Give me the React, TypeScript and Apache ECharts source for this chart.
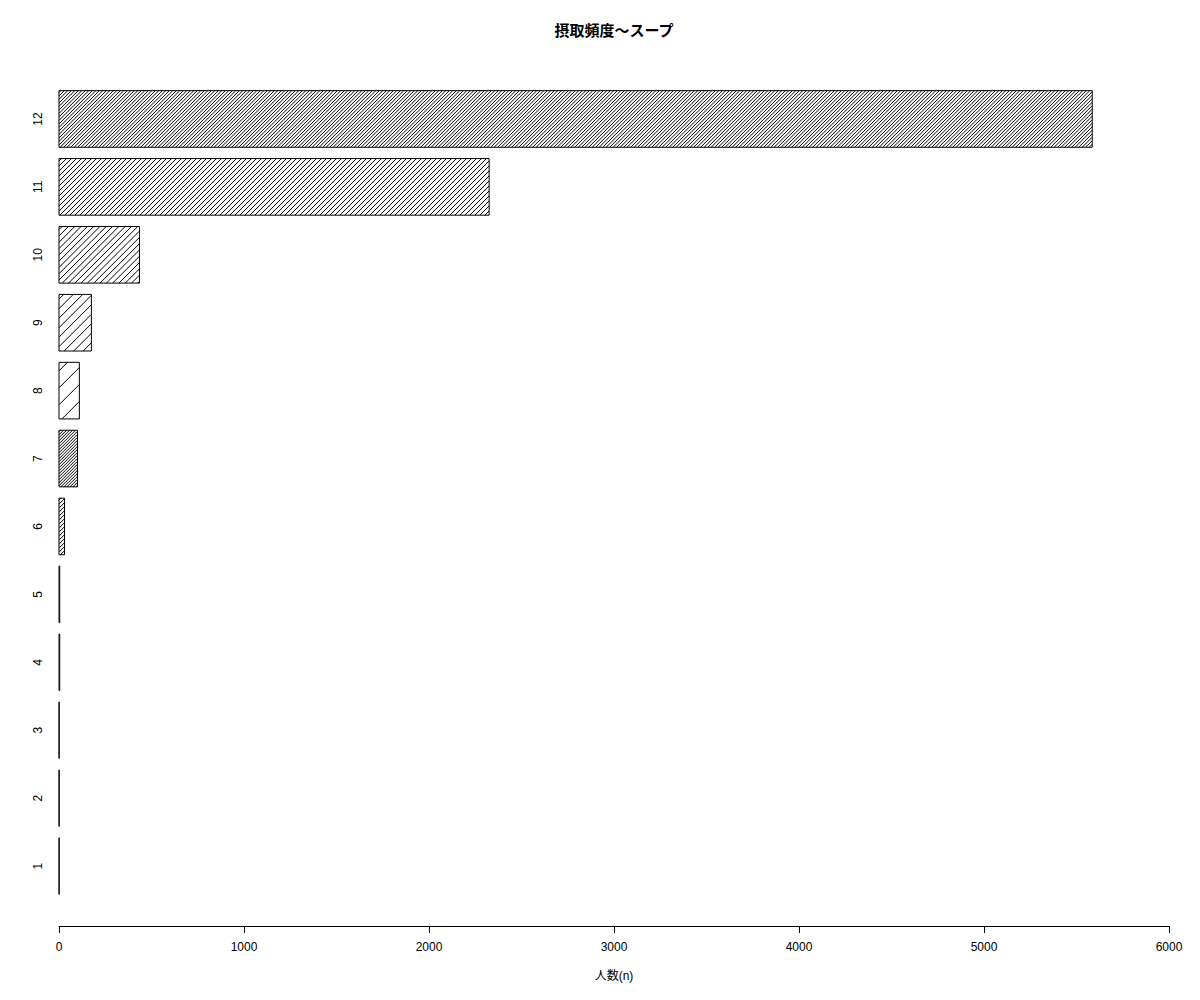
import React, { useEffect, useRef } from "react";
import * as echarts from "echarts";

// categories (bottom to top)
const categories = ["1", "2", "3", "4", "5", "6", "7", "8", "9", "10", "11", "12"];
// number of people per category
const counts = [1, 1, 1, 4, 4, 30, 100, 110, 175, 435, 2325, 5585];
// hatch period (horizontal spacing of the "/" lines, px) per bar
const hatchPeriod = [3, 3, 3, 3, 3, 4, 3, 17, 9.5, 6.3, 5, 3.5];
const xTicks = [0, 1000, 2000, 3000, 4000, 5000, 6000];

const titleText = "摂取頻度〜スープ";
const xName = "人数(n)";
const FONT = "'Liberation Sans', 'Noto Sans CJK JP', sans-serif";

export default function App() {
  const ref = useRef<HTMLDivElement>(null);
  useEffect(() => {
    document.body.style.margin = "0";
    if (!ref.current) return;
    const chart = echarts.init(ref.current, null, { renderer: "svg" });
    const data = counts.map((v, i) => [v, i, hatchPeriod[i]]);
    chart.setOption({
      animation: false,
      backgroundColor: "#fff",
      textStyle: { fontFamily: FONT },
      title: {
        text: titleText,
        left: 609,
        top: 18,
        textAlign: "center",
        textStyle: { fontFamily: FONT, fontSize: 15, fontWeight: "bold", color: "#000" },
      },
      grid: { left: 59, right: 31, top: 85, bottom: 100, containLabel: false },
      xAxis: {
        type: "value",
        min: xTicks[0],
        max: xTicks[xTicks.length - 1],
        interval: 1000,
        offset: 26,
        name: xName,
        nameLocation: "middle",
        nameGap: 44,
        nameTextStyle: { fontFamily: FONT, fontSize: 12, color: "#000" },
        axisLine: { show: true, lineStyle: { color: "#000", width: 1 } },
        axisTick: { show: true, length: 7, lineStyle: { color: "#000" } },
        axisLabel: {
          fontFamily: FONT,
          fontSize: 12,
          color: "#000",
          margin: 15,
          formatter: (v: number) => String(v),
        },
        splitLine: { show: false },
      },
      yAxis: {
        type: "category",
        data: categories,
        axisLine: { show: false },
        axisTick: { show: false },
        axisLabel: { fontFamily: FONT, fontSize: 12, color: "#000", rotate: 90, margin: 15 },
        splitLine: { show: false },
      },
      series: [
        {
          type: "custom",
          encode: { x: 0, y: 1 },
          data,
          renderItem: (params: any, api: any) => {
            const val = api.value(0);
            const cat = api.value(1);
            const period = api.value(2);
            const p0 = api.coord([0, cat]);
            const p1 = api.coord([val, cat]);
            const band = api.size([0, 1])[1];
            const h = band * (1 / 1.2);
            const x0 = p0[0];
            const x1 = p1[0];
            const y0 = p0[1] - h / 2;
            const y1 = p0[1] + h / 2;
            const children: any[] = [
              {
                type: "rect",
                shape: { x: x0, y: y0, width: Math.max(x1 - x0, 0), height: h },
                style: { fill: "#fff", stroke: "none" },
              },
            ];
            if (x1 - x0 > 1.5) {
              const s = period;
              const cStart = x0 + y0;
              const cEnd = x1 + y1;
              for (let c = cStart + s / 2; c < cEnd; c += s) {
                const xa = Math.max(x0, c - y1);
                const xb = Math.min(x1, c - y0);
                if (xb > xa) {
                  children.push({
                    type: "line",
                    shape: { x1: xa, y1: c - xa, x2: xb, y2: c - xb },
                    style: { stroke: "#000", lineWidth: 1 },
                  });
                }
              }
            }
            children.push({
              type: "polygon",
              shape: {
                points: [
                  [x0, y0],
                  [x1, y0],
                  [x1, y1],
                  [x0, y1],
                ],
              },
              style: { fill: "none", stroke: "#000", lineWidth: 1 },
            });
            return { type: "group", children };
          },
        },
      ],
    });
    return () => chart.dispose();
  }, []);
  return <div ref={ref} style={{ width: 1200, height: 1000 }} />;
}
